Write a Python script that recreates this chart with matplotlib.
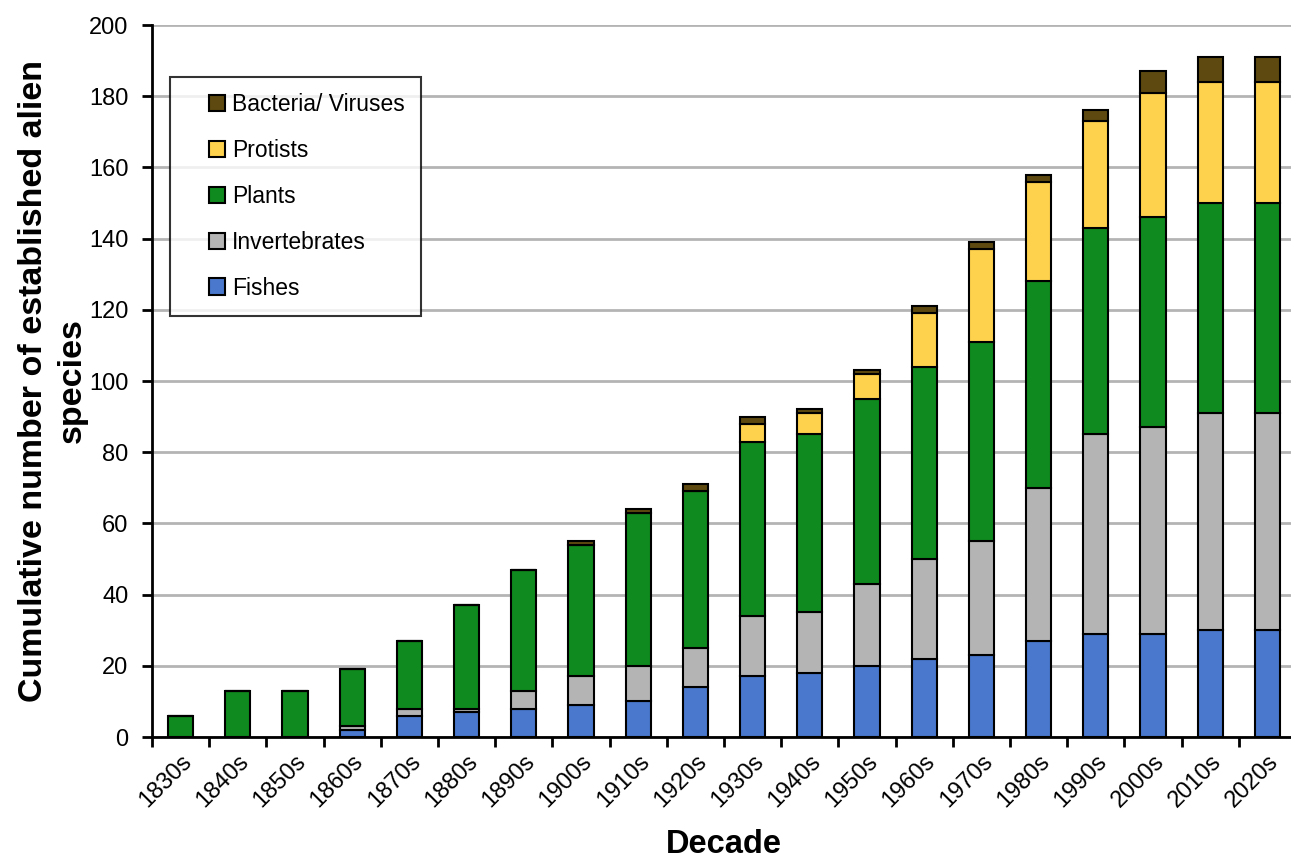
import matplotlib
matplotlib.use("Agg")
import matplotlib.pyplot as plt
from matplotlib.patches import Rectangle
from matplotlib.container import BarContainer
from matplotlib.legend_handler import HandlerPatch, update_from_first_child
import numpy as np

decades = ["1830s", "1840s", "1850s", "1860s", "1870s", "1880s", "1890s", "1900s", "1910s", "1920s",
           "1930s", "1940s", "1950s", "1960s", "1970s", "1980s", "1990s", "2000s", "2010s", "2020s"]

# species counts per group (stacked, cumulative over decades)
fishes = [0, 0, 0, 2, 6, 7, 8, 9, 10, 14, 17, 18, 20, 22, 23, 27, 29, 29, 30, 30]
invertebrates = [0, 0, 0, 1, 2, 1, 5, 8, 10, 11, 17, 17, 23, 28, 32, 43, 56, 58, 61, 61]
plants = [6, 13, 13, 16, 19, 29, 34, 37, 43, 44, 49, 50, 52, 54, 56, 58, 58, 59, 59, 59]
protists = [0, 0, 0, 0, 0, 0, 0, 0, 0, 0, 5, 6, 7, 15, 26, 28, 30, 35, 34, 34]
bacteria = [0, 0, 0, 0, 0, 0, 0, 1, 1, 2, 2, 1, 1, 2, 2, 2, 3, 6, 7, 7]

groups = ["Fishes", "Invertebrates", "Plants", "Protists", "Bacteria/ Viruses"]
colors = ["#4a78cc", "#b4b4b4", "#0f8a1e", "#ffd24d", "#5e4a10"]

plt.rcParams['font.family'] = ['Liberation Sans', 'DejaVu Sans']


def square_handle(legend, orig_handle, xdescent, ydescent, width, height, fontsize):
    # small square at the right end of the handle box (Excel-like legend keys)
    s = 0.72 * fontsize
    return Rectangle((-xdescent + width - s, -ydescent + (height - s) / 2), s, s)


fig = plt.figure(figsize=(12.91, 8.61), dpi=100)
ax = fig.add_axes([152 / 1291, 1 - 737 / 861, 1144 / 1291, 712 / 861])

x = np.arange(len(decades))
bottom = np.zeros(len(decades))
for name, vals, col in zip(groups, [fishes, invertebrates, plants, protists, bacteria], colors):
    vals = np.array(vals, dtype=float)
    ax.bar(x, vals, 0.44, bottom=bottom, color=col, edgecolor="black", linewidth=1.5,
           label=name, zorder=3)
    bottom += vals

ax.set_ylim(0, 200)
ax.set_xlim(-0.5, len(decades) - 0.5)
ax.set_yticks(np.arange(0, 201, 20))
ax.yaxis.grid(True, color="#b4b4b4", linewidth=2, zorder=0)
ax.set_axisbelow(True)

ax.set_xticks(x)
ax.set_xticklabels(decades, rotation=45, ha="right", rotation_mode="anchor", fontsize=17)
ax.set_xticks(np.arange(-0.5, len(decades)), minor=True)
ax.tick_params(axis="x", which="major", length=0, pad=10)
ax.tick_params(axis="x", which="minor", length=7, width=2, direction="out")
ax.tick_params(axis="y", length=7, width=2, direction="out", labelsize=17, pad=10)

for s in ["top", "right"]:
    ax.spines[s].set_visible(False)
ax.spines["left"].set_linewidth(2)
ax.spines["bottom"].set_linewidth(2)

ax.set_ylabel("Cumulative number of established alien\nspecies", fontsize=24.5, fontweight="bold",
              labelpad=1, linespacing=1.3)
ax.set_xlabel("Decade", fontsize=23.5, fontweight="bold", labelpad=12)

handles, labels = ax.get_legend_handles_labels()
leg = ax.legend(handles[::-1], labels[::-1], loc="upper left", bbox_to_anchor=(0.016, 0.927),
                fontsize=16.5, frameon=True, fancybox=False, edgecolor="black",
                handlelength=1.7, handleheight=0.75, handletextpad=0.3, labelspacing=1.0,
                borderpad=0.7, borderaxespad=0,
                handler_map={BarContainer: HandlerPatch(patch_func=square_handle,
                                                        update_func=update_from_first_child)})
leg.get_frame().set_linewidth(1.5)

fig.savefig("out.png", dpi=100)
